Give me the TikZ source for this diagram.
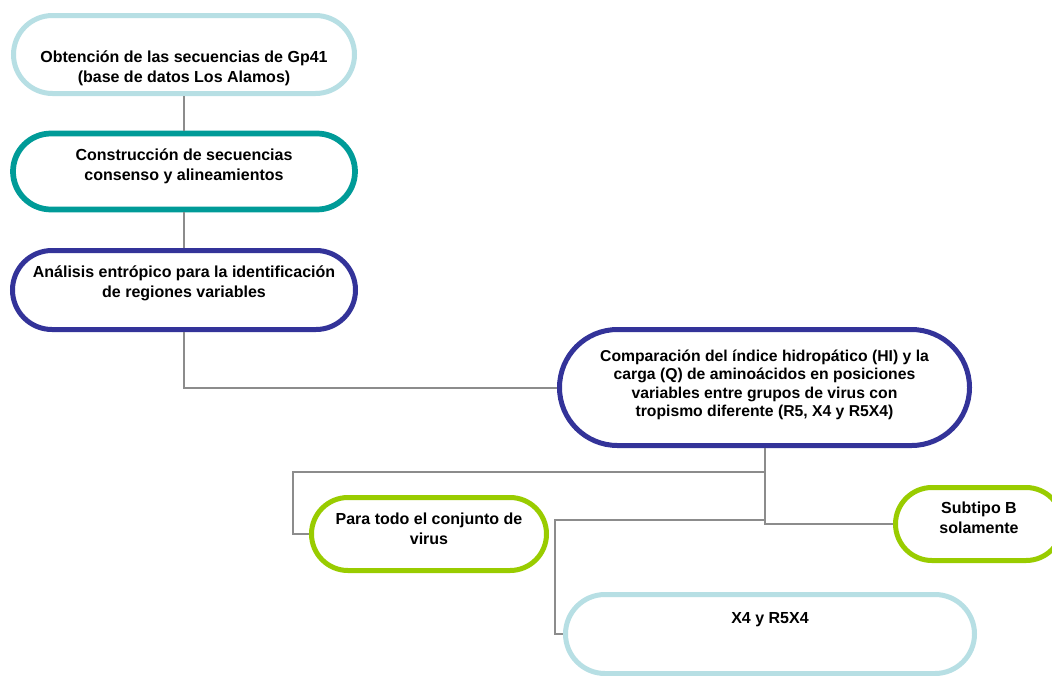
\documentclass[tikz,border=0pt]{standalone}
\usepackage{fontspec}
\setmainfont{Liberation Sans}
\usetikzlibrary{shapes.misc}
\definecolor{paleblue}{HTML}{B7DFE4}
\definecolor{tealc}{HTML}{009B98}
\definecolor{indigoc}{HTML}{333399}
\definecolor{limec}{HTML}{99CC00}
\definecolor{linegray}{HTML}{8C8C8C}
\tikzset{
	pill/.style={rounded rectangle, draw=#1, line width=3.75pt, fill=white, inner sep=0pt},
	txt/.style={align=center, inner sep=0pt, font=\bfseries\fontsize{12}{15}\selectfont},
	smalltxt/.style={txt, font=\bfseries\fontsize{11.8}{13.7}\selectfont},
	conn/.style={draw=linegray, line width=1.5pt}
}
\begin{document}
\begin{tikzpicture}[x=0.75pt,y=-0.75pt]
	\useasboundingbox (0,0) rectangle (1052,675);
	\node[pill=paleblue, minimum width=255.75pt, minimum height=58.5pt,
		label={[txt, yshift=-10pt]center:{Obtención de las secuencias de Gp41\\(base de datos Los Alamos)}}] (obt) at (184,54.5) {};
	\node[pill=tealc, line width=4.3pt, minimum width=256.5pt, minimum height=57pt,
		label={[txt, yshift=3.75pt]center:{Construcción de secuencias\\consenso y alineamientos}}] (cons) at (184,171.5) {};
	\node[pill=indigoc, minimum width=257.25pt, minimum height=59.25pt,
		label={[txt, yshift=5.25pt]center:{Análisis entrópico para la identificación\\de regiones variables}}] (anal) at (184,290) {};
	\node[pill=indigoc, minimum width=307.5pt, minimum height=87pt,
		label={[smalltxt, yshift=2pt]center:{Comparación del índice hidropático (HI) y la\\carga (Q) de aminoácidos en posiciones\\variables entre grupos de virus con\\tropismo diferente (R5, X4 y R5X4)}}] (comp) at (764.5,387.5) {};
	\node[pill=limec, minimum width=176.25pt, minimum height=54.75pt,
		label={[txt, yshift=4pt]center:{Para todo el conjunto de\\virus}}] (todo) at (429,534) {};
	\node[pill=limec, minimum width=125.25pt, minimum height=54.75pt,
		label={[txt, yshift=4.5pt]center:{Subtipo B\\solamente}}] (subB) at (979,524) {};
	\node[pill=paleblue, minimum width=306.75pt, minimum height=59.25pt,
		label={[txt, yshift=11pt]center:{X4 y R5X4}}] (xcuatro) at (770,634) {};
	\draw[conn] (obt.south) -- (cons.north);
	\draw[conn] (cons.south) -- (anal.north);
	\draw[conn] (anal.south) |- (comp.west);
	\draw[conn] (comp.south) |- (subB.west);
	\draw[conn] (comp.south) -- ++(0,24) -| ([xshift=-12pt]todo.west) -- (todo.west);
	\draw[conn] (comp.south) -- ++(0,72) -| ([xshift=-6pt]xcuatro.west) -- (xcuatro.west);
\end{tikzpicture}
\end{document}
